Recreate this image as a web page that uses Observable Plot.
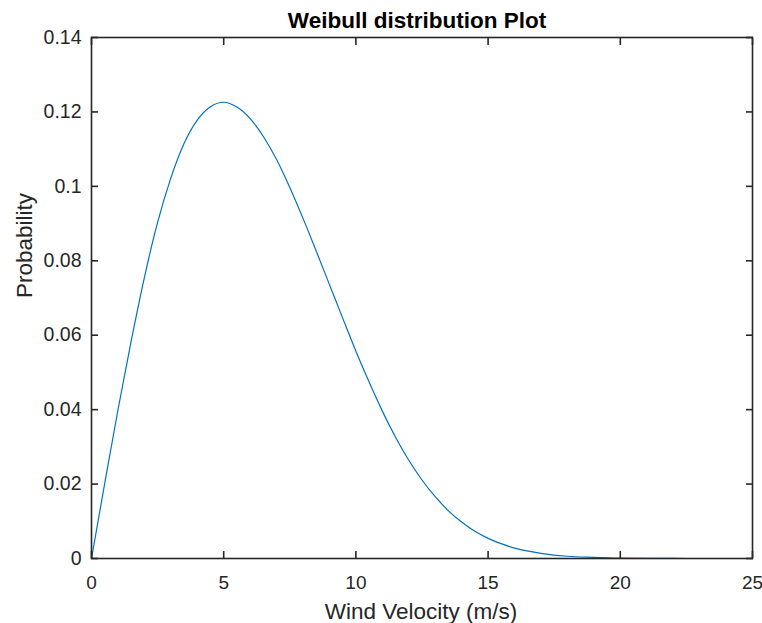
<!DOCTYPE html>
<html>
<head>
<meta charset="utf-8">
<script src="https://cdn.jsdelivr.net/npm/d3@7"></script>
<script src="https://cdn.jsdelivr.net/npm/@observablehq/plot@0.6"></script>
<style>
  html, body { margin: 0; padding: 0; background: #ffffff; }
  #chart svg { display: block; }
</style>
</head>
<body>
<div id="chart"></div>
<script>
// Wind velocity (m/s) sample points
const velocity = [0, 0.5, 1, 1.5, 2, 2.5, 3, 3.5, 4, 4.5, 5, 5.5, 6, 6.5, 7, 7.5, 8, 8.5, 9, 9.5,
  10, 10.5, 11, 11.5, 12, 12.5, 13, 13.5, 14, 14.5, 15, 16, 17, 18, 19, 20, 21, 22, 23, 24, 25];
// Probability values
const probability = [0, 0.0202, 0.0399, 0.0584, 0.0755, 0.0903, 0.1022, 0.1115, 0.1178, 0.1214, 0.1226,
  0.1213, 0.1182, 0.1134, 0.1072, 0.0997, 0.0914, 0.0826, 0.0736, 0.0646,
  0.0557, 0.0474, 0.0396, 0.0326, 0.0264, 0.0211, 0.0166, 0.0128, 0.0098, 0.0073,
  0.0054, 0.0028, 0.0014, 0.0006, 0.0003, 0.0001, 0.00004, 0.00001, 0, 0, 0];
const xTicks = [0, 5, 10, 15, 20, 25];
const yTicks = [0, 0.02, 0.04, 0.06, 0.08, 0.1, 0.12, 0.14];
const titleText = "Weibull distribution Plot";
const xLabel = "Wind Velocity (m/s)";
const yLabel = "Probability";

const rows = velocity.map((v, i) => ({v, p: probability[i]}));
const fmt = d => String(+d.toFixed(2));
const axisColor = "#262626";
const font = "'Liberation Sans', Arial, Helvetica, sans-serif";

const chart = Plot.plot({
  width: 762,
  height: 623,
  marginLeft: 91,
  marginRight: 10,
  marginTop: 37,
  marginBottom: 65,
  style: {fontFamily: font, color: axisColor, background: "#ffffff"},
  x: {domain: [0, 25]},
  y: {domain: [0, 0.14]},
  marks: [
    Plot.line(rows, {x: "v", y: "p", stroke: "#0072BD", strokeWidth: 1.2, curve: "monotone-x"}),
    Plot.axisX(xTicks, {anchor: "bottom", tickSize: -7, tickPadding: 24, strokeWidth: 1.6,
      tickFormat: fmt, fontSize: 19, fill: axisColor, stroke: axisColor, label: null}),
    Plot.axisX(xTicks, {anchor: "top", tickSize: -7, strokeWidth: 1.6,
      tickFormat: () => "", stroke: axisColor, label: null}),
    Plot.axisY(yTicks, {anchor: "left", tickSize: -7, tickPadding: 17, strokeWidth: 1.6,
      tickFormat: fmt, fontSize: 19.5, fill: axisColor, stroke: axisColor, label: null}),
    Plot.axisY(yTicks, {anchor: "right", tickSize: -7, strokeWidth: 1.6,
      tickFormat: () => "", stroke: axisColor, label: null}),
    Plot.frame({stroke: axisColor, strokeWidth: 1.6}),
    Plot.text([titleText], {text: d => d, frameAnchor: "top", lineAnchor: "bottom", dy: -10, dx: -5,
      fontSize: 22.5, fontWeight: "bold", fill: "#000000"}),
    Plot.text([xLabel], {text: d => d, frameAnchor: "bottom", lineAnchor: "bottom", dy: 60, dx: -1,
      fontSize: 22.5, fill: axisColor}),
    Plot.text([yLabel], {text: d => d, frameAnchor: "left", lineAnchor: "bottom", rotate: -90, dx: -60,
      fontSize: 22.5, fill: axisColor})
  ]
});
document.getElementById("chart").appendChild(chart);
</script>
</body>
</html>
